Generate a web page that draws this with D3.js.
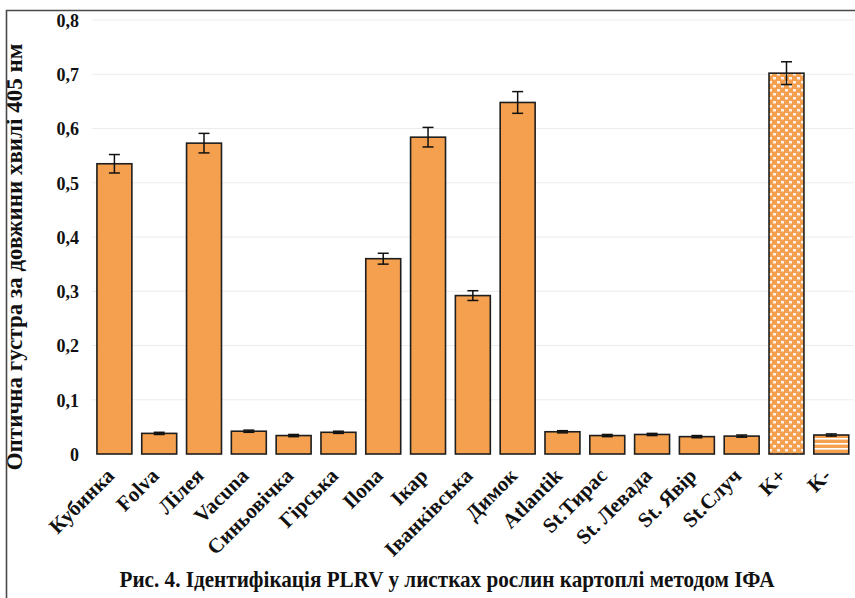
<!DOCTYPE html>
<html>
<head>
<meta charset="utf-8">
<script src="https://cdn.jsdelivr.net/npm/d3@7/dist/d3.min.js"></script>
<style>
  html, body { margin: 0; padding: 0; background: #fff; }
  svg { display: block; }
  text { font-family: "Liberation Serif", "Times New Roman", serif; font-weight: bold; fill: #111; }
</style>
</head>
<body>
<svg id="chart" width="855" height="598"></svg>
<script>
// Cultivars tested and the two controls
const categories = ["Кубинка", "Folva", "Лілея", "Vacuna", "Синьовічка", "Гірська", "Ilona", "Ікар",
  "Іванківська", "Димок", "Atlantik", "St.Тирас", "St. Левада", "St. Явір", "St.Случ", "K+", "K-"];
// Optical density at 405 nm
const values = [0.535, 0.038, 0.573, 0.042, 0.034, 0.040, 0.360, 0.584,
  0.292, 0.648, 0.041, 0.034, 0.036, 0.032, 0.033, 0.702, 0.035];
// Standard errors
const errors = [0.017, 0.002, 0.018, 0.002, 0.002, 0.002, 0.010, 0.018,
  0.009, 0.020, 0.002, 0.002, 0.002, 0.002, 0.002, 0.021, 0.002];
const yTicks = [0, 0.1, 0.2, 0.3, 0.4, 0.5, 0.6, 0.7, 0.8];
const yTitle = "Оптична густра за довжини хвилі 405 нм";
const caption = "Рис. 4. Ідентифікація PLRV у листках рослин картоплі методом ІФА";

const svg = d3.select("#chart");
const W = 855, H = 598;
const plot = { left: 92, right: 853.7, top: 20, bottom: 454 };
const barColor = "#F4A04E";

// Patterns for the positive and negative controls
const defs = svg.append("defs");
const dots = defs.append("pattern").attr("id", "dots")
  .attr("patternUnits", "userSpaceOnUse").attr("width", 8).attr("height", 8);
dots.append("rect").attr("width", 8).attr("height", 8).attr("fill", barColor);
dots.append("rect").attr("x", 1).attr("y", 1).attr("width", 3).attr("height", 2.5).attr("fill", "#fdf3ea");
dots.append("rect").attr("x", 5).attr("y", 5).attr("width", 3).attr("height", 2.5).attr("fill", "#fdf3ea");
const stripes = defs.append("pattern").attr("id", "stripes")
  .attr("patternUnits", "userSpaceOnUse").attr("width", 8).attr("height", 5);
stripes.append("rect").attr("width", 8).attr("height", 5).attr("fill", barColor);
stripes.append("rect").attr("y", 3).attr("width", 8).attr("height", 1.6).attr("fill", "#fff");

const x = d3.scaleBand().domain(categories)
  .range([plot.left, plot.right]).paddingInner(0.22).paddingOuter(0.11);
const y = d3.scaleLinear().domain([0, 0.8]).range([plot.bottom, plot.top]);

// Horizontal gridlines
svg.append("g").selectAll("line").data(yTicks.slice(1)).join("line")
  .attr("x1", plot.left).attr("x2", plot.right)
  .attr("y1", d => y(d)).attr("y2", d => y(d))
  .attr("stroke", "#ececec").attr("stroke-width", 1);

// Y axis labels
const fmt = d => d === 0 ? "0" : d3.format(".1f")(d).replace(".", ",");
const yAxis = d3.axisLeft(y).tickValues(yTicks).tickFormat(fmt).tickSize(0).tickPadding(0);
const yg = svg.append("g").attr("transform", "translate(79,0)").call(yAxis);
yg.select(".domain").remove();
yg.selectAll("text").attr("font-size", 18).attr("font-family", "Liberation Serif")
  .attr("font-weight", "bold").attr("fill", "#111").attr("dy", "0.35em");

// Bars
const fills = d => d === "K+" ? "url(#dots)" : d === "K-" ? "url(#stripes)" : barColor;
svg.append("g").selectAll("rect").data(categories).join("rect")
  .attr("x", d => x(d)).attr("width", x.bandwidth())
  .attr("y", (d, i) => y(values[i]))
  .attr("height", (d, i) => y(0) - y(values[i]))
  .attr("fill", fills)
  .attr("stroke", "#1e1e1e").attr("stroke-width", 1.6);

// Error bars
const eb = svg.append("g").attr("stroke", "#111").attr("stroke-width", 1.5);
categories.forEach((c, i) => {
  const cx = x(c) + x.bandwidth() / 2;
  const hi = y(values[i] + errors[i]), lo = y(values[i] - errors[i]);
  eb.append("line").attr("x1", cx).attr("x2", cx).attr("y1", hi).attr("y2", lo);
  eb.append("line").attr("x1", cx - 5.5).attr("x2", cx + 5.5).attr("y1", hi).attr("y2", hi);
  eb.append("line").attr("x1", cx - 5.5).attr("x2", cx + 5.5).attr("y1", lo).attr("y2", lo);
});

// Category labels, slanted
svg.append("g").selectAll("text").data(categories).join("text")
  .attr("transform", d => `translate(${x(d) + x.bandwidth() / 2 + 1},${plot.bottom + 23}) rotate(-45)`)
  .attr("text-anchor", "end").attr("font-size", 21)
  .text(d => d);

// Y axis title
svg.append("text")
  .attr("transform", `translate(22,257) rotate(-90)`)
  .attr("text-anchor", "middle").attr("font-size", 23)
  .text(yTitle);

// Frame lines
svg.append("path").attr("d", `M6.5,${H} V10.5 H${W}`)
  .attr("fill", "none").attr("stroke", "#4a4a4a").attr("stroke-width", 1.6);

// Figure caption
svg.append("text")
  .attr("x", 447).attr("y", 587)
  .attr("text-anchor", "middle").attr("font-size", 23)
  .attr("textLength", 655).attr("lengthAdjust", "spacingAndGlyphs")
  .text(caption);
</script>
</body>
</html>
